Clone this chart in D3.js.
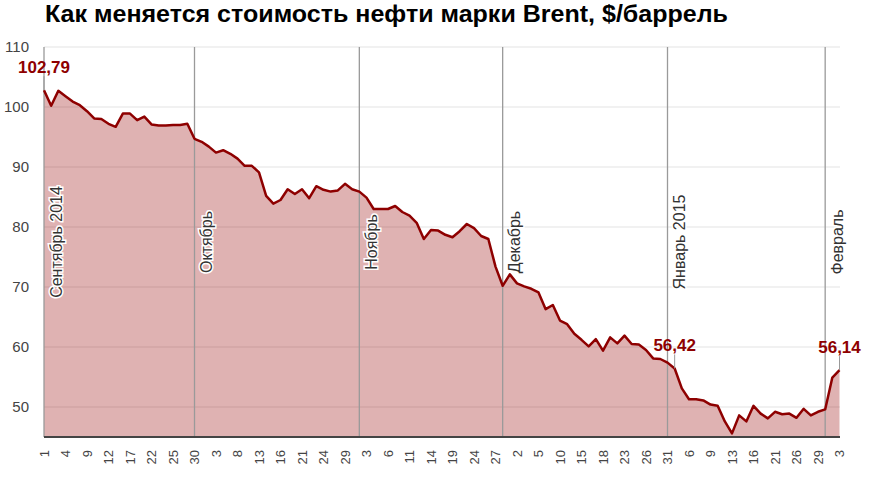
<!DOCTYPE html>
<html lang="ru">
<head>
	<meta charset="UTF-8">
	<title>Brent</title>
	<script src="https://cdn.jsdelivr.net/npm/d3@7/dist/d3.min.js"></script>
	<style>
		body { margin: 0; background: #fff; }
		text { font-family: "Liberation Sans", Arial, sans-serif; }
	</style>
</head>
<body>
<div id="chart"></div>
<script>
// дни торгов (сентябрь 2014 - 3 февраля 2015)
var days = [
	1,2,3,4,5,8,9,10,11,12,15,16,17,18,19,22,23,24,25,26,29,30,
	1,2,3,6,7,8,9,10,13,14,15,16,17,20,21,22,23,24,27,28,29,30,31,
	3,4,5,6,7,10,11,12,13,14,17,18,19,20,21,24,25,26,27,28,
	1,2,3,4,5,8,9,10,11,12,15,16,17,18,19,22,23,24,25,26,29,30,31,
	2,5,6,7,8,9,10,12,13,14,15,16,19,20,21,22,23,26,27,28,29,30,
	2,3
];

// цена, $/баррель
var prices = [
	102.79,100.2,102.7,101.8,100.9,100.3,99.3,98.1,98.0,97.2,96.7,98.9,98.9,97.8,98.4,97.1,96.9,96.9,97.0,97.0,97.2,94.7,
	94.2,93.4,92.4,92.8,92.2,91.4,90.2,90.2,89.1,85.2,83.9,84.5,86.3,85.5,86.3,84.8,86.8,86.2,85.9,86.1,87.2,86.3,85.9,
	84.9,83.0,83.0,83.0,83.5,82.5,81.9,80.7,78.0,79.5,79.4,78.7,78.3,79.3,80.5,79.8,78.5,78.0,73.4,70.2,
	72.1,70.6,70.1,69.7,69.1,66.3,67.0,64.4,63.8,62.2,61.2,60.1,61.3,59.4,61.6,60.6,61.9,60.5,60.4,59.5,58.1,58.0,57.4,
	56.42,53.1,51.3,51.3,51.1,50.4,50.2,47.6,45.6,48.6,47.6,50.2,48.9,48.1,49.2,48.8,48.9,48.2,49.7,48.6,49.2,49.6,
	54.9,56.14
];

var months = ["Сентябрь 2014", "Октябрь", "Ноябрь", "Декабрь", "Январь 2015", "Февраль"];
var monthIndex = [0, 21, 44, 64, 87, 109];   // к какой точке привязана линия месяца
var calloutIndex = [0, 88, 111];              // подписанные значения
var yTicks = [50, 60, 70, 80, 90, 100, 110];

window.onload = function(){
	var svg = d3.select("#chart").append("svg")
		.attr("width", 880)
		.attr("height", 481);

	var idx = d3.range(prices.length);

	var xScale = d3.scalePoint()
		.domain(idx)
		.range([44, 839.5]);

	var yScale = d3.scaleLinear()
		.domain([45, 110])
		.range([437, 47]);

	var left = 44, right = 840;

	// заголовок
	svg.append("text")
		.attr("x", 45)
		.attr("y", 22)
		.attr("font-size", 23)
		.attr("font-weight", "bold")
		.attr("fill", "#000")
		.attr("textLength", 683)
		.attr("lengthAdjust", "spacingAndGlyphs")
		.style("font-family", "'Liberation Sans Narrow', 'Arial Narrow', 'Liberation Sans', sans-serif")
		.text("Как меняется стоимость нефти марки Brent, $/баррель");

	// сетка и подписи оси Y
	svg.append("g").selectAll("line")
		.data(yTicks)
		.enter().append("line")
		.attr("x1", left).attr("x2", right)
		.attr("y1", function(d){ return yScale(d); })
		.attr("y2", function(d){ return yScale(d); })
		.attr("stroke", "#e3e3e3")
		.attr("stroke-width", 1);

	svg.append("g").selectAll("text")
		.data(yTicks)
		.enter().append("text")
		.attr("x", 29)
		.attr("y", function(d){ return yScale(d); })
		.attr("dy", "0.35em")
		.attr("text-anchor", "end")
		.attr("font-size", 15)
		.attr("fill", "#444")
		.text(function(d){ return d; });

	// область и линия
	var area = d3.area()
		.x(function(d){ return xScale(d); })
		.y0(yScale(45))
		.y1(function(d){ return yScale(prices[d]); });

	var line = d3.line()
		.x(function(d){ return xScale(d); })
		.y(function(d){ return yScale(prices[d]); });

	svg.append("path")
		.datum(idx)
		.attr("d", area)
		.attr("fill", "#940000")
		.attr("fill-opacity", 0.3);

	// линии месяцев
	svg.append("g").selectAll("line")
		.data(monthIndex)
		.enter().append("line")
		.attr("x1", function(d){ return xScale(d); })
		.attr("x2", function(d){ return xScale(d); })
		.attr("y1", yScale(110))
		.attr("y2", yScale(45))
		.attr("stroke", "#9a9a9a")
		.attr("stroke-width", 1.3);

	svg.append("path")
		.datum(idx)
		.attr("d", line)
		.attr("fill", "none")
		.attr("stroke", "#8e0000")
		.attr("stroke-width", 2.5)
		.attr("stroke-linejoin", "round");

	// названия месяцев
	svg.append("g").selectAll("text")
		.data(months)
		.enter().append("text")
		.attr("transform", function(d,i){
			return "translate(" + (xScale(monthIndex[i]) + 12) + ",242) rotate(-90)";
		})
		.attr("dy", "0.35em")
		.attr("text-anchor", "middle")
		.attr("font-size", 16)
		.attr("fill", "#333")
		.attr("stroke", "#fff")
		.attr("stroke-width", 3)
		.attr("paint-order", "stroke")
		.text(function(d){ return d; });

	// ось X
	svg.append("line")
		.attr("x1", left).attr("x2", right)
		.attr("y1", yScale(45)).attr("y2", yScale(45))
		.attr("stroke", "#444")
		.attr("stroke-width", 2);

	svg.append("g").selectAll("text")
		.data(idx.filter(function(d){ return d % 3 === 0; }))
		.enter().append("text")
		.attr("transform", function(d){ return "translate(" + xScale(d) + ",450) rotate(-90)"; })
		.attr("dy", "0.35em")
		.attr("text-anchor", "end")
		.attr("font-size", 13)
		.attr("fill", "#444")
		.text(function(d){ return days[d]; });

	// подписи значений
	var fmt = function(v){ return v.toFixed(2).replace(".", ","); };
	var callouts = svg.append("g").selectAll("g")
		.data(calloutIndex)
		.enter().append("g");

	callouts.append("line")
		.attr("x1", function(d){ return xScale(d); })
		.attr("x2", function(d){ return xScale(d); })
		.attr("y1", function(d){ return yScale(prices[d]) - 14; })
		.attr("y2", function(d){ return yScale(prices[d]); })
		.attr("stroke", "#999")
		.attr("stroke-width", 1);

	callouts.append("text")
		.attr("x", function(d){ return xScale(d); })
		.attr("y", function(d){ return yScale(prices[d]) - 17; })
		.attr("text-anchor", "middle")
		.attr("font-size", 17)
		.attr("font-weight", "bold")
		.attr("fill", "#8e0000")
		.text(function(d){ return fmt(prices[d]); });
};
</script>
</body>
</html>
